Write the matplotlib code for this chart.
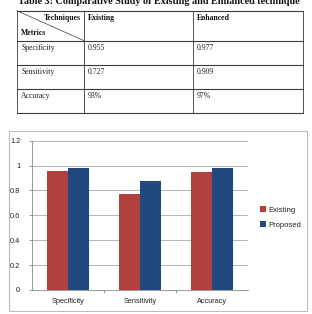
import matplotlib
matplotlib.use("Agg")
import matplotlib.pyplot as plt
import numpy as np
from matplotlib.patches import Rectangle
from matplotlib.lines import Line2D

# ---- data ----
categories = ["Specificity", "Sensitivity", "Accuracy"]
existing = [0.96, 0.77, 0.95]
proposed = [0.98, 0.88, 0.98]
series_names = ["Existing", "Proposed"]
yticks = [0, 0.2, 0.4, 0.6, 0.8, 1, 1.2]
ytick_labels = ["0", "0.2", "0.4", "0.6", "0.8", "1", "1.2"]

table_title = "Table 3: Comparative Study of Existing and Enhanced technique"
table_cols = ["Existing", "Enhanced"]
table_rows = ["Specificity", "Sensitivity", "Accuracy"]
table_existing = ["0.955", "0.727", "93%"]
table_enhanced = ["0.977", "0.909", "97%"]

W, H = 312, 314
fig = plt.figure(figsize=(W / 100, H / 100), dpi=100)
fig.patch.set_facecolor("white")

# overlay axes in pixel coordinates for table & frame
ov = fig.add_axes([0, 0, 1, 1])
ov.set_xlim(0, W)
ov.set_ylim(H, 0)
ov.axis("off")

serif = "Liberation Serif"
sans = "Liberation Sans"

# title (cut at top)
ov.text(159, 4.3, table_title, ha="center", va="baseline", fontsize=7.3,
        fontweight="bold", family=serif, color="#111111")

# table lines
tx0, tx1 = 17, 303
colx = [17, 84, 192.5, 303]
rowy = [10.7, 40.7, 65.3, 88.5, 112.7]
lc = "#3a3a3a"
for y in rowy:
    ov.add_line(Line2D([tx0, tx1], [y, y], color=lc, lw=0.8))
for x in colx:
    ov.add_line(Line2D([x, x], [rowy[0], rowy[-1]], color=lc, lw=0.6))
ov.add_line(Line2D([colx[0], colx[1]], [rowy[0], rowy[1]], color=lc, lw=0.5))

fs_t = 5.6
ov.text(81, 18.5, "Techniques", ha="right", va="center", fontsize=fs_t,
        fontweight="bold", family=serif, color="#111111")
ov.text(21, 32.7, "Metrics", ha="left", va="center", fontsize=fs_t,
        fontweight="bold", family=serif, color="#111111")
for i, c in enumerate(table_cols):
    ov.text(colx[i + 1] + 4, 18.5, c, ha="left", va="center", fontsize=fs_t,
            fontweight="bold", family=serif, color="#111111")
row_text_y = [48.3, 71.7, 96]
for i, r in enumerate(table_rows):
    ov.text(21, row_text_y[i], r, ha="left", va="center", fontsize=fs_t,
            family=serif, color="#222222")
    ov.text(colx[1] + 4, row_text_y[i], table_existing[i], ha="left",
            va="center", fontsize=fs_t, family=serif, color="#222222")
    ov.text(colx[2] + 4, row_text_y[i], table_enhanced[i], ha="left",
            va="center", fontsize=fs_t, family=serif, color="#222222")

# chart frame
ov.add_patch(Rectangle((9, 131), 298, 179.7, fill=False, ec="#BDBDBD", lw=0.8))

# chart axes
left, right = 32 / W, 248 / W
bottom, top = 1 - 290 / H, 1 - 140.7 / H
ax = fig.add_axes([left, bottom, right - left, top - bottom])
ax.set_facecolor("none")

x = np.arange(len(categories))
w = 0.285
red = "#B0413E"
blue = "#22497F"
ax.bar(x - w / 2, existing, w, color=red, label=series_names[0], zorder=3)
ax.bar(x + w / 2, proposed, w, color=blue, label=series_names[1], zorder=3)

ax.set_xlim(-0.5, len(categories) - 0.5)
ax.set_ylim(0, 1.2)
ax.set_yticks(yticks)
ax.set_yticklabels(ytick_labels, family=sans, fontsize=5.3, color="#222222")
ax.set_xticks(x)
ax.set_xticklabels(categories, family=sans, fontsize=5.3, color="#222222")
ax.tick_params(axis="x", length=0, pad=6)
ax.tick_params(axis="y", length=2.5, width=0.6, color="#888888", pad=6)
ax.set_xticks([0.5, 1.5], minor=True)
ax.tick_params(axis="x", which="minor", length=2.5, width=0.6, color="#888888")
ax.grid(axis="y", color="#B4B4B4", lw=0.7, zorder=0)
for s in ["top", "right"]:
    ax.spines[s].set_visible(False)
for s in ["left", "bottom"]:
    ax.spines[s].set_color("#888888")
    ax.spines[s].set_linewidth(0.6)

leg = ax.legend(loc="center left", bbox_to_anchor=(1.04, 0.485), frameon=False,
                prop={"family": sans, "size": 5.5}, handlelength=0.7,
                handleheight=0.7, handletextpad=0.3, labelspacing=1.0,
                borderpad=0)
for t in leg.get_texts():
    t.set_color("#222222")

fig.savefig("out.png", dpi=100)
